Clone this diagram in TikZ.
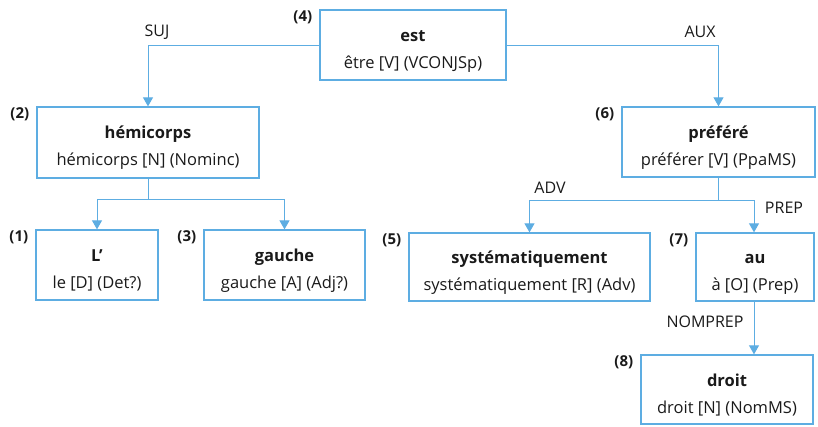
\documentclass[tikz,border=0pt]{standalone}
\usepackage{fontspec}
\setmainfont{Open Sans}
\usetikzlibrary{arrows.meta,positioning}
\definecolor{boxblue}{HTML}{5DADE2}
\definecolor{ink}{HTML}{1A1A1A}
\newcommand{\wordlines}[2]{\rule{0pt}{23pt}\textbf{#1}\\#2}
\tikzset{
    word/.style={draw=boxblue, line width=1.3pt, text=ink, align=center,
        inner sep=0pt, font=\fontsize{16.5}{27}\selectfont},
    numlab/.style={text=ink, inner sep=0pt, anchor=north east,
        font=\fontsize{15}{15}\selectfont\bfseries},
    edgelab/.style={text=ink, inner sep=0pt, font=\fontsize{16}{16}\selectfont},
    link/.style={draw=boxblue, line width=1pt, -{Triangle[width=10pt,length=9pt]}}
}
\begin{document}
\begin{tikzpicture}[x=1pt, y=-1pt]
        \useasboundingbox (0,0) rectangle (818,426);
        \begin{scope}[every node/.style={word}]
            \node[minimum width=186pt, minimum height=70pt] (est) at (413, 45) {\wordlines{est}{être [V] (VCONJSp)}};
            \node[minimum width=222pt, minimum height=71pt] (hemi) at (148, 142.5) {\wordlines{hémicorps}{hémicorps [N] (Nominc)}};
            \node[minimum width=193pt, minimum height=70pt] (pref) at (718.5, 142) {\wordlines{préféré}{préférer [V] (PpaMS)}};
            \node[minimum width=122pt, minimum height=70pt] (le) at (97, 265) {\wordlines{L’}{le [D] (Det?)}};
            \node[minimum width=161pt, minimum height=70pt] (gauche) at (284.5, 265) {\wordlines{gauche}{gauche [A] (Adj?)}};
            \node[minimum width=241pt, minimum height=68pt] (syst) at (529.5, 267) {\wordlines{systématiquement}{systématiquement [R] (Adv)}};
            \node[minimum width=118pt, minimum height=68pt] (au) at (755, 267) {\wordlines{au}{à [O] (Prep)}};
            \node[minimum width=172pt, minimum height=69pt] (droit) at (727, 389.5) {\wordlines{droit}{droit [N] (NomMS)}};
        \end{scope}
        \begin{scope}[every node/.style={numlab}]
            \node (n4) at ([xshift=-7pt, yshift=-1pt]est.north west) {(4)};
            \node (n2) at ([xshift=-7pt, yshift=-1pt]hemi.north west) {(2)};
            \node (n6) at ([xshift=-7pt, yshift=-1pt]pref.north west) {(6)};
            \node (n1) at ([xshift=-7pt, yshift=-1pt]le.north west) {(1)};
            \node (n3) at ([xshift=-7pt, yshift=-1pt]gauche.north west) {(3)};
            \node (n5) at ([xshift=-7pt, yshift=-1pt]syst.north west) {(5)};
            \node (n7) at ([xshift=-7pt, yshift=-1pt]au.north west) {(7)};
            \node (n8) at ([xshift=-7pt, yshift=-1pt]droit.north west) {(8)};
        \end{scope}
        \begin{scope}[every node/.style={edgelab}]
            \node (suj) at (157, 32) {SUJ};
            \node (aux) at (700, 32) {AUX};
            \node (adv) at (550, 188) {ADV};
            \node (prep) at (784, 208) {PREP};
            \node (nomprep) at (705, 322) {NOMPREP};
        \end{scope}
        \path [link] (est.west) -| (hemi.north);
        \path [link] (est.east) -| (pref.north);
        \path [link] (hemi.south) -- ++(0,21) -| (le.north);
        \path [link] (hemi.south) -- ++(0,21) -| (gauche.north);
        \path [link] (pref.south) -- ++(0,23) -| (syst.north);
        \path [link] (pref.south) -- ++(0,23) -| ([xshift=-1pt]au.north);
        \path [link] ([xshift=-1pt]au.south) -- ([xshift=-1pt]au.south |- droit.north);
    \end{tikzpicture}
\end{document}
